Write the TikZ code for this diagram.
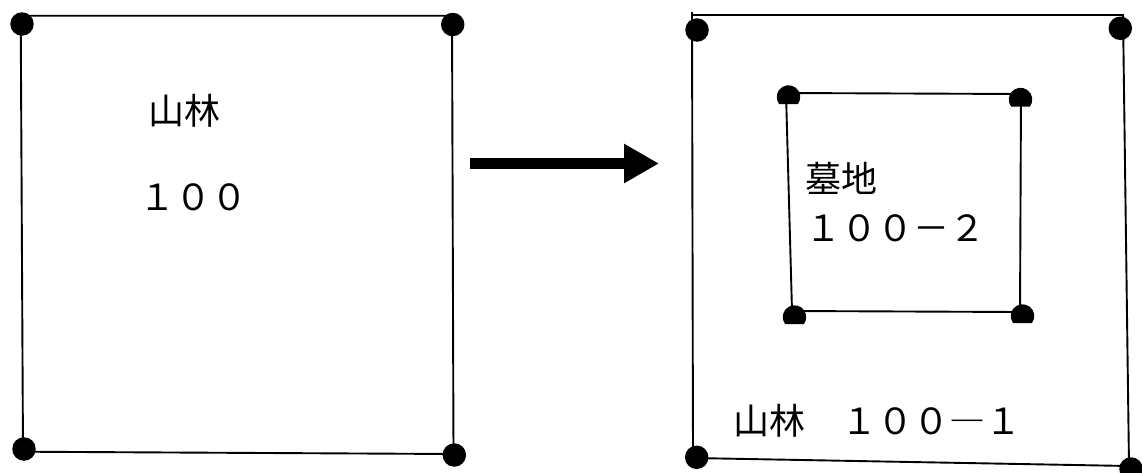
\documentclass[tikz,border=0pt]{standalone}
\usepackage{fontspec}
\newfontfamily\cjk{Noto Sans CJK JP}
\newfontfamily\cjkfw[RawFeature=+fwid]{Noto Sans CJK JP}
\usetikzlibrary{arrows.meta}
\tikzset{
  edge/.style={line width=1.9pt, line join=miter},
  dotmark/.style={circle, fill=black, inner sep=0pt, minimum size=23.5pt},
  label/.style={anchor=west, inner sep=0pt, font=\cjk\fontsize{36}{40}\selectfont},
  bigarrow/.style={line width=11pt, -{Triangle[length=35pt,width=37pt]}}
}
\newcommand{\halfdot}[1]{%
  \fill ([shift={(-37.5:11.75pt)}]#1) arc[start angle=-37.5, end angle=217.5, radius=11.75pt] -- cycle;}
\begin{document}
\begin{tikzpicture}[x=1pt, y=-1pt]
\useasboundingbox (0,0) rectangle (1142,472);
% left parcel
\coordinate (L1) at (20.7,15.7);
\coordinate (L2) at (452,15.7);
\coordinate (L3) at (453.5,454);
\coordinate (L4) at (23,451.7);
\draw[edge] (L1) -- (L2) -- (L3) -- (L4) -- cycle;
\node[dotmark] (dL1) at (22,24) {};
\node[dotmark] (dL2) at (452.7,24.5) {};
\node[dotmark] (dL3) at (454.3,455) {};
\node[dotmark] (dL4) at (24,449) {};
\node[label] (t1) at (148.5,111) {山林};
\node[label] (t2) at (139,197.5) {１００};
% arrow
\coordinate (A1) at (470,163.5);
\coordinate (A2) at (659,163.5);
\draw[bigarrow] (A1) -- (A2);
% right outer parcel
\coordinate (R1) at (692,15);
\coordinate (R2) at (1123,15);
\coordinate (R3) at (1129,466);
\coordinate (R4) at (693,458);
\draw[edge] (R1) -- (R2) -- (R3) -- (R4) -- cycle;
\draw[edge] (R1) -- ++(0,-3);
\node[dotmark] (dR1) at (697,30) {};
\node[dotmark] (dR2) at (1120.3,28.3) {};
\node[dotmark] (dR3) at (1131,469) {};
\node[dotmark] (dR4) at (696.7,457.3) {};
% inner parcel
\coordinate (I1) at (786,93);
\coordinate (I2) at (1021,94);
\coordinate (I3) at (1020,312);
\coordinate (I4) at (792,311);
\draw[edge] (I1) -- (I2) -- (I3) -- (I4) -- cycle;
\coordinate (dI1) at (788.5,97);
\coordinate (dI2) at (1020.5,99.5);
\coordinate (dI3) at (1022.5,316);
\coordinate (dI4) at (794.5,317);
\halfdot{dI1}
\halfdot{dI2}
\halfdot{dI3}
\halfdot{dI4}
\node[label] (t3) at (805.5,178) {墓地};
\node[label] (t4) at (805.5,228.5) {１００－２};
\node[label, font=\cjkfw\fontsize{36}{40}\selectfont] (t5) at (733.5,421) {山林　１００—１};
\end{tikzpicture}
\end{document}
